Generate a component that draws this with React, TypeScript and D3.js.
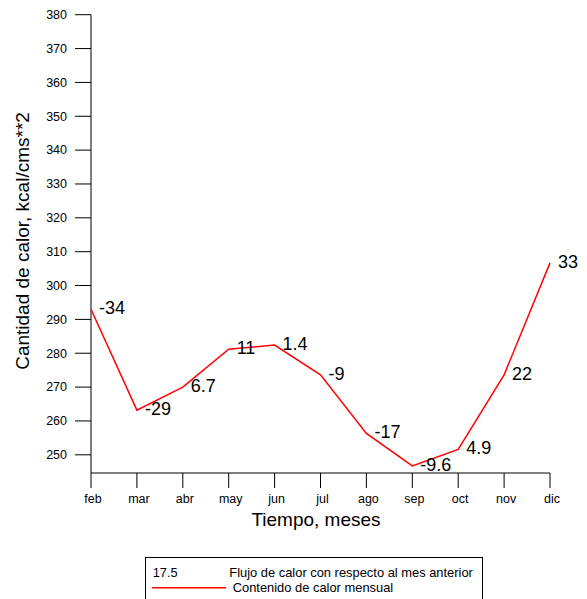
import React from "react";
import * as d3 from "d3";

const months = ["feb", "mar", "abr", "may", "jun", "jul", "ago", "sep", "oct", "nov", "dic"];
const heatContent = [293.0, 263.2, 270.0, 281.2, 282.4, 273.6, 256.3, 246.7, 251.6, 273.6, 306.7];
const heatFlux = ["-34", "-29", "6.7", "11", "1.4", "-9", "-17", "-9.6", "4.9", "22", "33"];
const yTicks = [250, 260, 270, 280, 290, 300, 310, 320, 330, 340, 350, 360, 370, 380];
const legendFluxSample = "17.5";
const legendFluxText = "Flujo de calor con respecto al mes anterior";
const legendLineText = "Contenido de calor mensual";
const xTitle = "Tiempo, meses";
const yTitle = "Cantidad de calor, kcal/cms**2";

const FONT = "Arial, 'Liberation Sans', sans-serif";

export default function App() {
  const W = 587, H = 599;
  const left = 91, right = 550, top = 14.7, bottom = 454.8, axisY = 473;
  const x = d3.scalePoint<string>().domain(months).range([left, right]);
  const y = d3.scaleLinear().domain([250, 380]).range([bottom, top]);
  const line = d3
    .line<number>()
    .x((_, i) => x(months[i]) as number)
    .y((d) => y(d));

  return (
    <svg
      width={W}
      height={H}
      style={{ position: "absolute", left: 0, top: 0, display: "block", background: "#fff" }}
      fontFamily={FONT}
    >
      {/* Y axis */}
      <line x1={left} x2={left} y1={y(380)} y2={axisY} stroke="#000" strokeWidth={1} />
      {yTicks.map((t) => (
        <g key={t}>
          <line x1={left - 16} x2={left} y1={y(t)} y2={y(t)} stroke="#000" strokeWidth={1} />
          <text x={left - 24} y={y(t)} dy="0.35em" textAnchor="end" fontSize={12.5} fill="#000">
            {t}
          </text>
        </g>
      ))}
      {/* X axis */}
      <line x1={left} x2={right} y1={axisY} y2={axisY} stroke="#000" strokeWidth={1} />
      {months.map((m) => (
        <g key={m}>
          <line x1={x(m)} x2={x(m)} y1={axisY} y2={axisY + 15} stroke="#000" strokeWidth={1} />
          <text x={(x(m) as number) + 2} y={503} textAnchor="middle" fontSize={12.5} fill="#000">
            {m}
          </text>
        </g>
      ))}
      {/* Titles */}
      <text x={316} y={526} textAnchor="middle" fontSize={19} fill="#000">
        {xTitle}
      </text>
      <text
        transform={`translate(28.6, 241) rotate(-90)`}
        textAnchor="middle"
        fontSize={19}
        fill="#000"
      >
        {yTitle}
      </text>
      {/* Data line */}
      <path d={line(heatContent) || ""} fill="none" stroke="#ff0000" strokeWidth={1.5} />
      {heatContent.map((v, i) => (
        <text key={i} x={(x(months[i]) as number) + 8} y={y(v) + 5} fontSize={18} fill="#000">
          {heatFlux[i]}
        </text>
      ))}
      {/* Legend */}
      <rect x={145.5} y={557.5} width={337} height={60} fill="#fff" stroke="#000" strokeWidth={1} />
      <text x={152.7} y={577} fontSize={12.8} fill="#000">
        {legendFluxSample}
      </text>
      <text x={229.3} y={577} fontSize={12.9} fill="#000">
        {legendFluxText}
      </text>
      <line x1={152} x2={226} y1={587.7} y2={587.7} stroke="#ff0000" strokeWidth={1.5} />
      <text x={232.7} y={592} fontSize={12.9} fill="#000">
        {legendLineText}
      </text>
    </svg>
  );
}
